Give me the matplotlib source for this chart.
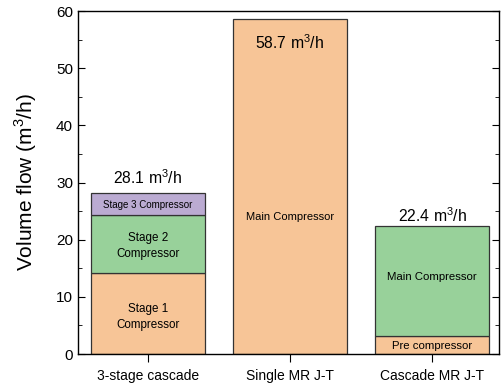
import matplotlib.pyplot as plt
import numpy as np

plt.rcParams['font.family'] = ['Liberation Sans', 'DejaVu Sans']
plt.rcParams['mathtext.fontset'] = 'custom'
plt.rcParams['mathtext.rm'] = 'Liberation Sans'

# --- data ---
cases = ['3-stage cascade', 'Single MR J-T', 'Cascade MR J-T']
totals = [28.1, 58.7, 22.4]

# stacked segments per case (bottom -> top)
seg_values = [
    [14.2, 10.1, 3.8],
    [58.7],
    [3.2, 19.2],
]
seg_labels = [
    ['Stage 1\nCompressor', 'Stage 2\nCompressor', 'Stage 3 Compressor'],
    ['Main Compressor'],
    ['Pre compressor', 'Main Compressor'],
]
seg_colors = [
    ['#F7C597', '#98D19A', '#BBABD2'],
    ['#F7C597'],
    ['#F7C597', '#98D19A'],
]

# label placement inside each segment (y in data units)
seg_label_y = [
    [6.5, 18.9, 26.1],
    [24.0],
    [1.4, 13.5],
]
seg_fontsize = [
    [8.4, 8.4, 7.0],
    [8.0],
    [8.2, 8.2],
]
total_label_y = [30.8, 54.5, 24.2]

fig, ax = plt.subplots(figsize=(5.03, 3.84), dpi=100)
fig.subplots_adjust(left=0.155, right=0.992, top=0.971, bottom=0.078)

x = np.arange(len(cases))
width = 0.8
for i, vals in enumerate(seg_values):
    bottom = 0
    for j, v in enumerate(vals):
        ax.bar(x[i], v, width, bottom=bottom, color=seg_colors[i][j],
               edgecolor='#333333', linewidth=0.9)
        ax.text(x[i], seg_label_y[i][j], seg_labels[i][j], ha='center', va='center',
                fontsize=seg_fontsize[i][j], linespacing=1.4)
        bottom += v

for i, t in enumerate(totals):
    ax.text(x[i], total_label_y[i], f'{t} m$^3$/h', ha='center', va='center', fontsize=11.3)

ax.set_xlim(-0.49, 2.47)
ax.set_ylim(0, 60)
ax.set_xticks(x)
ax.set_xticklabels(cases)
ax.set_yticks(np.arange(0, 61, 10))
ax.set_yticks(np.arange(5, 60, 10), minor=True)
ax.tick_params(axis='y', which='major', direction='in', length=5, right=True, labelsize=11)
ax.tick_params(axis='y', which='minor', direction='in', length=3, right=True)
ax.tick_params(axis='x', which='major', direction='out', length=6, pad=5, labelsize=10)
ax.set_ylabel('Volume flow (m$^3$/h)', fontsize=15, labelpad=12)
for s in ax.spines.values():
    s.set_linewidth(1.0)

plt.savefig('out.png', dpi=100)
